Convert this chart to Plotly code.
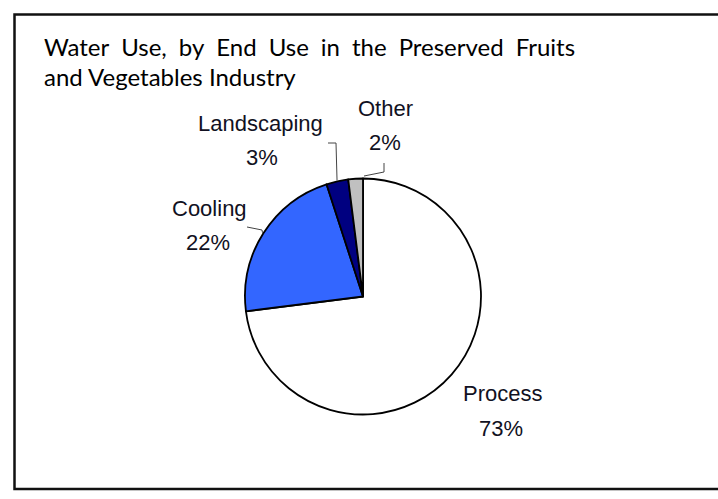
import math
import plotly.graph_objects as go

# ---- data ----
labels = ["Process", "Cooling", "Landscaping", "Other"]
values = [73, 22, 3, 2]
colors = ["#FFFFFF", "#3366FF", "#000080", "#C0C0C0"]
title_words = ["Water", "Use,", "by", "End", "Use", "in", "the", "Preserved", "Fruits"]
title_line2 = "and Vegetables Industry"

# ---- layout constants (pixels) ----
W, H = 718, 499
CX, CY, R = 363, 296.5, 118

def px(x):
    return x / W

def py(y):
    return 1 - y / H

# label placement (label centre, percent centre) and leader elbows
label_pos = {
    "Other": ((385, 108), (385, 142)),
    "Landscaping": ((260, 123), (262, 157)),
    "Cooling": ((209, 208), (208, 243)),
    "Process": ((502, 393), (501, 428)),
}
leader_elbows = {
    "Other": [(384, 172), (384, 163)],
    "Landscaping": [(336, 143), (328, 143)],
    "Cooling": [(262, 230), (247, 227)],
}

fig = go.Figure()
fig.add_trace(go.Pie(
    labels=labels, values=values, sort=False, direction="clockwise",
    rotation=0, marker=dict(colors=colors, line=dict(color="#000000", width=1.8)),
    textinfo="none", hoverinfo="skip", showlegend=False,
    domain=dict(x=[px(CX - R), px(CX + R)], y=[py(CY + R), py(CY - R)]),
))

annotations = []
shapes = []
total = sum(values)
cum = 0  # clockwise from 12 o'clock
for lab, val in zip(labels, values):
    pct = round(100 * val / total)
    mid = (cum + val / 2) / total * 2 * math.pi
    cum += val
    (lx, ly), (qx, qy) = label_pos[lab]
    for (tx, ty, txt) in [(lx, ly, lab), (qx, qy, f"{pct}%")]:
        annotations.append(dict(
            x=px(tx), y=py(ty), xref="paper", yref="paper", text=txt,
            showarrow=False, xanchor="center", yanchor="middle",
            font=dict(family="Liberation Sans, Arial", size=22, color="#111122"),
        ))
    if lab in leader_elbows:
        ex = CX + (R + 1) * math.sin(mid)
        ey = CY - (R + 1) * math.cos(mid)
        if lab == "Other":
            ex, ey = CX + 1, CY - R - 2.5
        pts = [(ex, ey)] + leader_elbows[lab]
        path = "M " + " L ".join(f"{px(x)},{py(y)}" for x, y in pts)
        shapes.append(dict(type="path", path=path, xref="paper", yref="paper",
                           line=dict(color="#444444", width=1)))

# title lines (first line justified with wider gaps)
title_font = dict(family="Lato, Carlito, Calibri", size=24, color="#000000")
annotations.append(dict(
    x=px(42), y=py(47), xref="paper", yref="paper",
    text="\u2002".join(title_words),
    showarrow=False, xanchor="left", yanchor="middle", font=title_font,
))
annotations.append(dict(
    x=px(42), y=py(76), xref="paper", yref="paper", text=title_line2,
    showarrow=False, xanchor="left", yanchor="middle", font=title_font,
))

# outer frame (left, top, bottom; right side runs beyond the image)
shapes.append(dict(type="path", xref="paper", yref="paper",
                   path=f"M {px(730)},{py(14.5)} L {px(14.5)},{py(14.5)} L {px(14.5)},{py(489)} L {px(730)},{py(489)}",
                   line=dict(color="#111111", width=2.5)))

fig.update_layout(
    width=W, height=H, margin=dict(l=0, r=0, t=0, b=0),
    paper_bgcolor="white", plot_bgcolor="white",
    annotations=annotations, shapes=shapes,
)
fig.write_html("out.html")
